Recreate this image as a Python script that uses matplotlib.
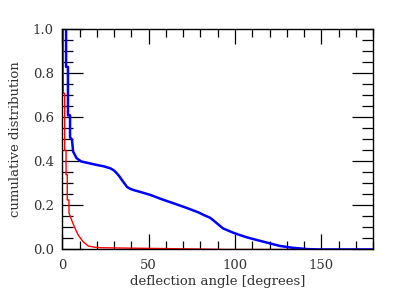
import numpy as np
import matplotlib
matplotlib.use('Agg')
import matplotlib.pyplot as plt
from matplotlib.ticker import MultipleLocator

# cumulative distribution of deflection angles
blue_x = [2.2, 2.2, 3.3, 3.3, 4.5, 4.5, 5.6, 6.3, 8.3, 11, 15, 20.1, 24, 27.8,
          29.8, 31.6, 33, 34.5, 36, 37.4, 39, 41.3, 45, 51, 57, 64, 68, 72, 76,
          79, 81.8, 85.6, 87.5, 89.5, 93, 96, 99, 103, 106.9, 112.7, 120, 126,
          133, 141.6, 148, 180]
blue_y = [1.0, 0.83, 0.83, 0.61, 0.61, 0.51, 0.50, 0.445, 0.415, 0.40, 0.393,
          0.384, 0.378, 0.369, 0.36, 0.346, 0.333, 0.316, 0.3, 0.285, 0.277,
          0.27, 0.262, 0.248, 0.23, 0.211, 0.2, 0.189, 0.177, 0.168, 0.157,
          0.144, 0.132, 0.119, 0.096, 0.086, 0.076, 0.065, 0.055, 0.043, 0.028,
          0.016, 0.008, 0.002, 0.0, 0.0]

red_x = [0.6, 0.6, 1.4, 1.4, 2.2, 2.2, 2.9, 2.9, 3.9, 3.9, 5.4, 7.3, 9.2, 12, 15,
         18.8, 22, 40, 60, 80, 95, 180]
red_y = [1.0, 0.71, 0.71, 0.45, 0.45, 0.34, 0.34, 0.225, 0.225, 0.166, 0.134,
         0.098, 0.066, 0.036, 0.016, 0.01, 0.008, 0.006, 0.004, 0.002, 0.0, 0.0]

plt.rcParams['font.family'] = 'DejaVu Serif'

fig = plt.figure(figsize=(4.15, 2.97), dpi=100)
ax = fig.add_axes([0.150, 0.160, 0.7495, 0.7407])

ax.plot(red_x, red_y, color='red', lw=1.0)
ax.plot(blue_x, blue_y, color='blue', lw=1.8)

ax.set_xlim(0, 180)
ax.set_ylim(0, 1)
ax.xaxis.set_major_locator(MultipleLocator(50))
ax.xaxis.set_minor_locator(MultipleLocator(10))
ax.yaxis.set_major_locator(MultipleLocator(0.2))
ax.yaxis.set_minor_locator(MultipleLocator(0.05))
ax.tick_params(which='both', direction='in', top=True, right=True, width=0.9,
               labelsize=9.5, colors='black', labelcolor='#333333')
ax.tick_params(axis='x', which='major', length=11, pad=7)
ax.tick_params(axis='x', which='minor', length=6)
ax.tick_params(axis='y', which='major', length=15, pad=6)
ax.tick_params(axis='y', which='minor', length=8)
ax.yaxis.set_major_formatter(matplotlib.ticker.FormatStrFormatter('%.1f'))
for s in ax.spines.values():
    s.set_linewidth(1.0)

ax.set_xlabel('deflection angle [degrees]', fontsize=9.5, labelpad=2,
              color='#333333')
ax.set_ylabel('cumulative distribution', fontsize=9.5, labelpad=8,
              color='#333333')

fig.savefig('out.png', dpi=100)
